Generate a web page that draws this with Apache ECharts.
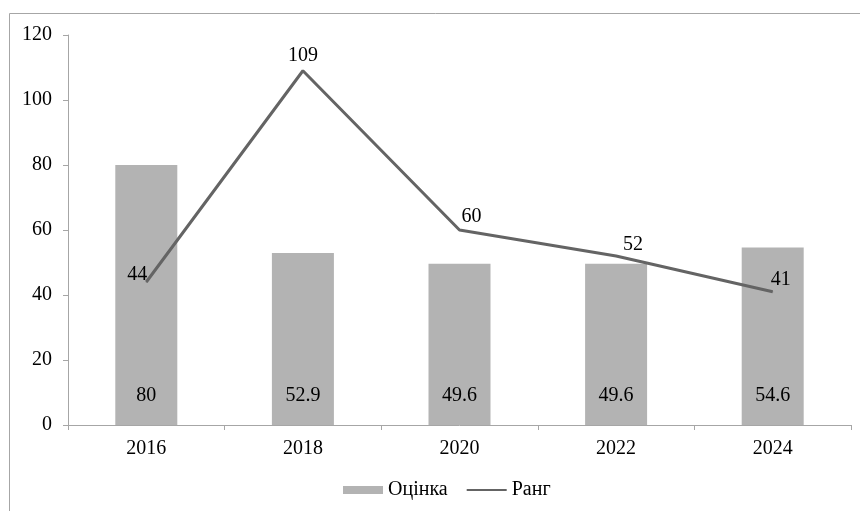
<!DOCTYPE html>
<html>
<head>
<meta charset="utf-8">
<script src="https://cdn.jsdelivr.net/npm/echarts@6/dist/echarts.min.js"></script>
<style>
html,body{margin:0;padding:0;background:#fff;}
#chart{width:860px;height:511px;}
</style>
</head>
<body>
<div id="chart"></div>
<script>
const categories = ['2016', '2018', '2020', '2022', '2024'];
const scoreValues = [80, 52.9, 49.6, 49.6, 54.6];
const rankValues = [44, 109, 60, 52, 41];
const rankLabelOffsets = [[-9, 8], [0, 0], [12, 2], [17, 4], [8, 3]];
const yTicks = { min: 0, max: 120, interval: 20 };

const FONT = '"Liberation Serif", "Times New Roman", serif';
const FS = 20;
const chart = echarts.init(document.getElementById('chart'));
chart.setOption({
  animation: false,
  backgroundColor: '#fff',
  textStyle: { fontFamily: FONT },
  graphic: [{
    type: 'rect',
    shape: { x: 9.5, y: 13.5, width: 900, height: 600 },
    style: { fill: 'none', stroke: '#a6a6a6', lineWidth: 1 },
    silent: true
  }],
  grid: { left: 68, right: 9, top: 35, bottom: 86, containLabel: false },
  legend: {
    top: 480,
    left: 343,
    padding: 0,
    itemWidth: 40,
    itemHeight: 8,
    itemGap: 18,
    textStyle: { fontFamily: FONT, fontSize: FS, color: '#000' },
    data: [
      { name: 'Оцінка', icon: 'rect' },
      { name: 'Ранг', itemStyle: { opacity: 0 } }
    ]
  },
  xAxis: {
    type: 'category',
    data: categories,
    boundaryGap: true,
    axisLine: { lineStyle: { color: '#a6a6a6', width: 1 } },
    axisTick: { show: true, length: 5, lineStyle: { color: '#a6a6a6' } },
    axisLabel: { fontFamily: FONT, fontSize: FS, color: '#000', margin: 14 }
  },
  yAxis: {
    type: 'value',
    min: yTicks.min, max: yTicks.max, interval: yTicks.interval,
    splitLine: { show: false },
    axisLine: { show: true, lineStyle: { color: '#a6a6a6', width: 1 } },
    axisTick: { show: true, length: 5, lineStyle: { color: '#a6a6a6' } },
    axisLabel: { fontFamily: FONT, fontSize: FS, color: '#000', margin: 16 }
  },
  series: [
    {
      name: 'Оцінка',
      type: 'bar',
      data: scoreValues,
      barWidth: 62,
      itemStyle: { color: '#b3b3b3' },
      label: {
        show: true,
        position: 'insideBottom',
        distance: 19,
        fontFamily: FONT, fontSize: FS, color: '#000'
      }
    },
    {
      name: 'Ранг',
      type: 'line',
      data: rankValues.map((v, i) => ({
        value: v,
        label: { offset: rankLabelOffsets[i] }
      })),
      symbol: 'circle',
      symbolSize: 1,
      showSymbol: true,
      itemStyle: { color: '#646464' },
      lineStyle: { color: '#646464', width: 3 },
      label: {
        show: true,
        position: 'top',
        distance: 5,
        fontFamily: FONT, fontSize: FS, color: '#000'
      }
    }
  ]
});
</script>
</body>
</html>
